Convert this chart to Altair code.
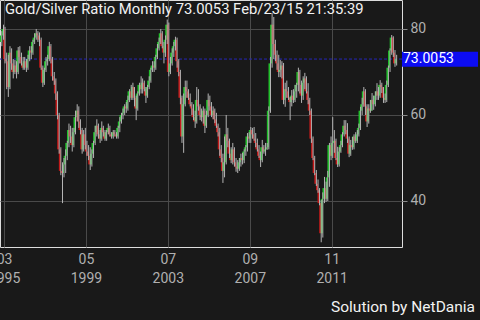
import altair as alt
import pandas as pd

TITLE = "Gold/Silver Ratio Monthly 73.0053 Feb/23/15 21:35:39"
FOOTER = "Solution by NetDania"
LAST_PRICE = 73.0053
FIRST_OPEN = 77.0

# monthly closes, Jan 1995 .. Feb 2015
closes = [
    78.5, 80.0, 73.0, 72.5, 66.5, 74.5, 72.0, 70.0, 71.5, 70.0, 75.0, 73.5,   # 1995
    72.0, 71.0, 72.5, 71.0, 73.0, 75.0, 74.5, 77.0, 78.0, 79.0, 78.5, 77.5,   # 1996
    71.0, 67.5, 70.5, 72.5, 73.0, 76.0, 73.0, 69.0, 68.0, 65.0, 60.0, 52.0,   # 1997
    47.0, 46.5, 48.5, 50.5, 53.5, 56.5, 55.0, 53.0, 56.0, 59.5, 61.0, 58.5,   # 1998
    56.5, 52.0, 55.5, 53.0, 51.5, 50.5, 48.5, 51.0, 53.5, 56.0, 57.5, 55.5,   # 1999
    54.5, 57.0, 56.0, 54.5, 56.0, 57.0, 55.5, 55.0, 56.0, 55.5, 55.0, 57.0,   # 2000
    58.5, 60.0, 60.5, 62.0, 61.5, 63.5, 65.5, 64.0, 66.5, 64.0, 61.5, 65.0,   # 2001
    67.0, 66.0, 67.5, 66.0, 64.5, 66.5, 68.0, 70.5, 71.5, 71.0, 73.5, 75.5,   # 2002
    77.0, 79.0, 76.0, 74.5, 77.5, 81.0, 70.0, 72.0, 74.5, 76.0, 77.5, 72.5,   # 2003
    70.0, 64.0, 55.0, 62.5, 66.5, 65.5, 64.0, 62.5, 61.5, 59.5, 58.5, 63.5,   # 2004
    62.0, 60.0, 59.5, 61.0, 57.5, 60.0, 63.5, 62.0, 60.0, 61.0, 59.0, 57.5,   # 2005
    56.0, 52.0, 50.0, 47.0, 49.0, 55.5, 54.0, 51.0, 49.5, 52.0, 49.0, 48.0,   # 2006
    47.5, 49.0, 50.0, 49.5, 51.5, 52.5, 55.0, 54.5, 56.5, 55.5, 54.5, 53.5,   # 2007
    52.0, 50.5, 49.5, 52.5, 51.5, 52.0, 52.5, 61.0, 72.0, 81.0, 76.5, 74.0,   # 2008
    72.0, 70.0, 70.5, 71.5, 63.5, 66.0, 65.5, 64.0, 63.0, 64.5, 63.5, 65.5,   # 2009
    67.0, 70.0, 67.0, 64.5, 67.5, 68.5, 65.5, 63.5, 61.0, 54.5, 50.0, 46.5,   # 2010
    44.0, 42.5, 39.5, 32.5, 40.5, 43.0, 40.5, 45.5, 53.0, 50.5, 53.5, 54.0,   # 2011
    50.0, 48.5, 51.5, 53.0, 55.5, 57.5, 56.5, 54.5, 51.0, 53.0, 52.5, 55.0,   # 2012
    54.0, 55.5, 57.0, 61.0, 62.5, 65.5, 62.0, 58.5, 61.5, 61.0, 63.5, 62.5,   # 2013
    64.5, 65.5, 64.5, 67.0, 66.5, 64.0, 63.5, 67.0, 71.0, 75.0, 78.0, 74.5,   # 2014
    72.0, 73.0053,                                                            # 2015
]

highs = [
    79.5, 81.0, 80.5, 74.5, 74.0, 76.0, 75.5, 73.0, 72.8, 72.5, 75.8, 76.0,
    74.5, 73.5, 73.5, 73.0, 74.0, 76.0, 76.0, 77.5, 79.0, 80.0, 79.5, 79.2,
    78.0, 71.5, 71.0, 73.5, 74.0, 77.0, 76.5, 73.5, 70.0, 68.5, 65.5, 60.5,
    52.5, 49.0, 50.0, 52.0, 54.0, 58.0, 57.5, 57.0, 57.0, 61.0, 62.5, 62.0,
    59.0, 57.0, 56.5, 57.0, 54.0, 53.0, 52.5, 52.0, 54.0, 57.5, 59.0, 58.0,
    56.5, 58.5, 57.5, 56.5, 56.5, 58.0, 57.5, 56.0, 56.5, 56.5, 56.0, 57.5,
    59.5, 60.5, 61.5, 62.5, 63.0, 64.5, 66.0, 67.0, 67.5, 66.5, 64.5, 65.5,
    67.5, 69.0, 68.5, 68.0, 66.5, 67.0, 69.0, 71.0, 72.5, 72.5, 74.0, 76.5,
    78.0, 80.0, 79.5, 77.0, 78.5, 82.2, 81.5, 73.5, 75.5, 77.0, 78.2, 78.0,
    73.0, 70.5, 64.5, 65.0, 68.0, 68.0, 66.0, 65.0, 63.0, 62.5, 61.0, 66.5,
    66.0, 62.5, 61.5, 62.0, 61.5, 61.0, 65.0, 64.5, 63.0, 62.0, 61.5, 60.5,
    58.0, 57.0, 53.0, 51.0, 55.0, 60.0, 57.0, 54.5, 52.5, 53.5, 52.5, 50.0,
    49.5, 50.0, 51.0, 51.2, 52.0, 53.0, 55.8, 56.0, 57.2, 57.0, 57.2, 55.8,
    54.5, 53.0, 51.5, 54.2, 53.0, 53.5, 53.5, 62.0, 73.5, 83.7, 82.8, 77.5,
    75.0, 74.0, 72.8, 72.5, 72.1, 67.5, 68.0, 66.5, 64.2, 65.8, 66.0, 67.0,
    67.5, 71.0, 70.5, 68.0, 69.0, 69.8, 69.0, 67.4, 64.0, 61.5, 55.0, 50.5,
    47.2, 45.0, 43.0, 40.2, 42.0, 45.6, 44.5, 47.0, 53.5, 55.0, 59.5, 56.5,
    54.5, 52.6, 52.5, 54.0, 56.0, 58.8, 58.8, 58.1, 55.0, 54.2, 54.9, 55.5,
    56.0, 56.5, 58.0, 61.9, 64.0, 66.5, 66.0, 62.5, 62.5, 63.5, 65.1, 64.5,
    65.5, 67.4, 66.5, 68.1, 67.5, 66.5, 65.0, 68.0, 71.5, 75.5, 78.6, 78.3,
    75.1, 74.0,
]

lows = [
    76.0, 77.5, 72.0, 66.0, 64.2, 66.0, 70.5, 68.5, 69.5, 68.5, 69.5, 72.0,
    71.5, 70.5, 70.5, 70.0, 70.5, 72.5, 73.0, 74.0, 76.5, 77.5, 77.0, 76.0,
    70.5, 66.5, 67.0, 70.0, 71.5, 72.5, 72.0, 68.0, 67.0, 63.5, 59.0, 51.0,
    46.0, 39.5, 45.5, 46.5, 49.5, 52.5, 53.5, 51.5, 52.5, 55.5, 58.5, 57.0,
    55.5, 51.0, 51.5, 52.0, 50.5, 49.5, 47.2, 48.0, 50.0, 53.0, 55.0, 54.5,
    53.5, 54.0, 55.0, 54.0, 54.0, 55.5, 55.0, 54.5, 54.5, 55.0, 54.5, 54.5,
    56.0, 58.0, 59.0, 60.0, 60.5, 61.0, 63.0, 63.5, 63.5, 62.0, 58.8, 61.0,
    64.5, 65.0, 65.0, 65.5, 62.8, 64.0, 66.0, 67.5, 70.0, 70.0, 70.5, 73.0,
    75.0, 76.5, 75.5, 72.0, 73.5, 76.5, 69.0, 69.5, 71.5, 73.5, 75.0, 71.0,
    69.0, 62.5, 53.5, 51.2, 62.0, 64.0, 63.5, 62.0, 60.0, 58.8, 57.0, 58.0,
    61.0, 58.8, 58.5, 58.0, 55.8, 57.0, 59.5, 61.0, 59.5, 59.0, 58.1, 57.0,
    55.0, 50.5, 49.0, 44.2, 45.5, 48.5, 52.5, 50.0, 48.8, 48.5, 48.0, 46.8,
    46.5, 47.0, 48.0, 48.5, 48.8, 50.5, 51.5, 53.5, 53.5, 54.5, 54.0, 52.5,
    51.5, 50.0, 47.9, 49.0, 51.0, 50.5, 51.9, 52.0, 60.5, 71.0, 73.0, 72.5,
    70.5, 68.8, 68.8, 68.5, 62.5, 61.9, 64.0, 63.5, 58.8, 62.0, 62.8, 63.0,
    64.0, 65.5, 65.0, 62.8, 63.5, 66.0, 65.0, 62.5, 60.0, 53.5, 49.5, 46.0,
    43.5, 41.9, 39.0, 30.4, 31.5, 39.5, 39.8, 40.0, 43.3, 49.5, 50.0, 51.2,
    49.5, 47.9, 48.0, 51.2, 52.5, 55.0, 55.5, 53.5, 50.2, 50.5, 51.9, 52.0,
    53.5, 53.5, 55.0, 56.5, 60.0, 61.9, 60.0, 57.2, 58.0, 60.5, 61.0, 61.2,
    62.0, 63.5, 63.5, 64.0, 65.1, 62.8, 62.8, 63.0, 66.5, 70.0, 74.0, 73.5,
    71.2, 71.5,
]

months = pd.date_range("1995-01-01", periods=len(closes), freq="MS").strftime("%Y-%m-%d")
opens = [FIRST_OPEN] + closes[:-1]

df = pd.DataFrame({
    "date": months,
    "open": opens,
    "high": highs,
    "low": lows,
    "close": closes,
})
df["dir"] = ["up" if c >= o else "down" for o, c in zip(df["open"], df["close"])]

GRID = "#4a4a4a"
LABEL = "#b0b0b0"

tick_dates = [
    alt.DateTime(year=1995, month=3, date=1, utc=True),
    alt.DateTime(year=1999, month=5, date=1, utc=True),
    alt.DateTime(year=2003, month=7, date=1, utc=True),
    alt.DateTime(year=2007, month=9, date=1, utc=True),
    alt.DateTime(year=2011, month=11, date=1, utc=True),
]

xscale = alt.Scale(
    type="utc",
    domain=[alt.DateTime(year=1995, month=3, date=19, utc=True),
            alt.DateTime(year=2015, month=2, date=26, utc=True)],
)
yscale = alt.Scale(domain=[29.3, 86.74], nice=False, zero=False)

xaxis = alt.Axis(
    values=tick_dates,
    labelExpr="[utcFormat(datum.value, '%m'), utcFormat(datum.value, '%Y')]",
    grid=True, gridColor=GRID, gridWidth=1,
    ticks=False, domain=False,
    labelColor=LABEL, labelFontSize=14, labelFont="Roboto",
    labelPadding=5, labelLineHeight=19, labelBaseline="top",
    labelBound=False, labelOverlap=False, labelFlush=False, title=None,
)
yaxis = alt.Axis(
    orient="right", values=[40, 60, 80],
    grid=True, gridColor=GRID, gridWidth=1,
    domain=False, ticks=True, tickSize=5, tickColor="#8a8a8a",
    labelPadding=3, labelColor=LABEL, labelFontSize=14, labelFont="Roboto",
    labelBaseline="middle", title=None,
)

base = alt.Chart(df).encode(x=alt.X("date:T", scale=xscale, axis=xaxis))

price_df = pd.DataFrame({"price": [LAST_PRICE]})
price_line = alt.Chart(price_df).mark_rule(
    color="#2626b8", strokeWidth=1, strokeDash=[3, 2]
).encode(y=alt.Y("price:Q", scale=yscale, axis=yaxis))

body = base.mark_bar(size=2).encode(
    y=alt.Y("open:Q"),
    y2="close:Q",
    color=alt.Color("dir:N", scale=alt.Scale(domain=["up", "down"],
                                             range=["#22c02c", "#c21a1a"]),
                    legend=None),
)
wick = base.mark_rule(color="#b4b4b4", strokeWidth=1, xOffset=1).encode(
    y="low:Q",
    y2="high:Q",
)

price_box = alt.Chart(price_df).transform_calculate(
    top="datum.price + 1.7", bot="datum.price - 1.8"
).mark_rect(color="#0c0cf2").encode(
    x=alt.value(402), x2=alt.value(478),
    y="top:Q", y2="bot:Q",
)
price_text = alt.Chart(price_df).mark_text(
    align="left", baseline="middle", fontSize=14, font="Roboto", color="#ffffff", dx=1
).encode(
    x=alt.value(402), y="price:Q", text=alt.Text("price:Q", format=".4f"),
)

title_text = alt.Chart(pd.DataFrame({"t": [TITLE]})).mark_text(
    align="left", baseline="alphabetic", fontSize=14.8, font="Roboto", color="#f2f2f2"
).encode(x=alt.value(5), y=alt.value(14), text="t:N")

footer_text = alt.Chart(pd.DataFrame({"t": [FOOTER]})).mark_text(
    align="right", baseline="alphabetic", fontSize=15.5, font="Roboto", color="#f2f2f2"
).encode(x=alt.value(475), y=alt.value(312), text="t:N")

chart = alt.layer(
    price_line, body, wick, price_box, price_text, title_text, footer_text
).properties(
    width=402, height=247,
    autosize=alt.AutoSizeParams(type="none"),
    padding={"left": 0, "top": 0, "right": 78, "bottom": 73},
    background="#191919",
).configure_view(stroke=None).configure(font="Roboto")

chart.save("out.html", embed_options={"renderer": "svg", "actions": False})
